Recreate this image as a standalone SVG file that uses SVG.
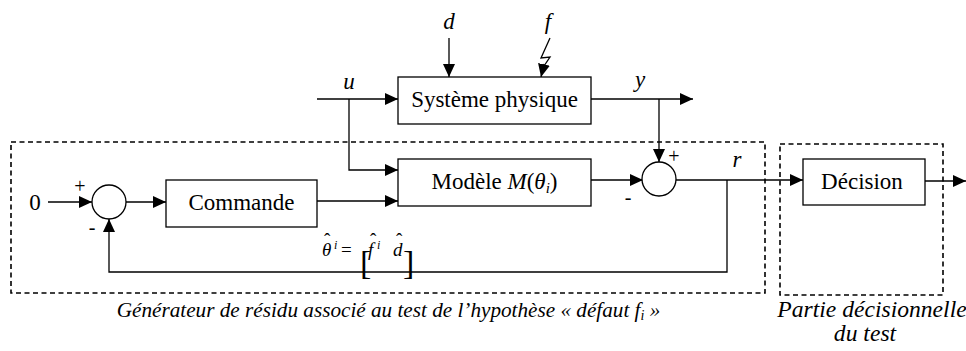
<svg xmlns="http://www.w3.org/2000/svg" width="966" height="351" viewBox="0 0 966 351">
<style>
  .box { fill: #fff; stroke: #000; stroke-width: 1.3; }
  .ln { fill: none; stroke: #000; stroke-width: 1.3; }
  .arr { marker-end: url(#ah); }
  .dash { fill: none; stroke: #000; stroke-width: 1.6; stroke-dasharray: 5 3.5; }
  .t { font-family: "Liberation Serif", serif; font-size: 23px; fill: #000; }
  .fm { font-family: "Liberation Serif", serif; font-size: 19px; fill: #000; }
  .cap { font-family: "Liberation Serif", serif; font-size: 21.2px; font-style: italic; fill: #000; }
  .cap2 { font-family: "Liberation Serif", serif; font-size: 23.6px; font-style: italic; fill: #000; }
  .it { font-style: italic; }
  .sg { font-family: "Liberation Serif", serif; font-size: 20px; fill: #000; }
</style>
<defs>
  <marker id="ah" markerUnits="userSpaceOnUse" markerWidth="14" markerHeight="12" refX="13" refY="6" orient="auto">
    <path d="M0,0 L13,6 L0,12 Z" fill="#000"/>
  </marker>
</defs>
<rect width="966" height="351" fill="#fff"/>

<g id="frames">
  <rect class="dash" x="11" y="142" width="754" height="151"/>
  <rect class="dash" x="780" y="144" width="163" height="151"/>
</g>

<g id="connectors">
  <line class="ln arr" x1="317" y1="99" x2="398" y2="99"/>
  <polyline class="ln arr" points="349,99 349,170 398,170"/>
  <line class="ln arr" x1="449" y1="38" x2="449" y2="77"/>
  <polyline class="ln" points="550,38 541,58 550,57 544,66"/>
  <line class="ln arr" x1="544" y1="64" x2="541" y2="77"/>
  <line class="ln arr" x1="591" y1="99" x2="693" y2="99"/>
  <line class="ln arr" x1="659" y1="99" x2="659" y2="162"/>
  <line class="ln arr" x1="48" y1="202" x2="92" y2="202"/>
  <line class="ln arr" x1="126" y1="202" x2="166" y2="202"/>
  <line class="ln arr" x1="317" y1="201" x2="398" y2="201"/>
  <line class="ln arr" x1="591" y1="180" x2="643" y2="180"/>
  <line class="ln arr" x1="676" y1="180" x2="803" y2="180"/>
  <polyline class="ln arr" points="727,180 727,272 109,272 109,219"/>
  <line class="ln arr" x1="925" y1="181" x2="966" y2="181"/>
</g>

<g id="systeme">
  <rect class="box" x="398" y="77" width="193" height="47"/>
  <text class="t" x="494.5" y="107" text-anchor="middle">Système physique</text>
</g>

<g id="commande">
  <rect class="box" x="166" y="180" width="151" height="47"/>
  <text class="t" x="241.5" y="210" text-anchor="middle">Commande</text>
</g>

<g id="modele">
  <rect class="box" x="398" y="159" width="193" height="47"/>
  <text class="t" x="494.5" y="189" text-anchor="middle">Modèle <tspan class="it">M</tspan>(<tspan class="it">θ</tspan><tspan class="it" font-size="15" dy="4">i</tspan><tspan dy="-4">)</tspan></text>
</g>

<g id="sum1">
  <circle class="box" cx="109" cy="202" r="17"/>
  <text class="sg" x="80" y="193" text-anchor="middle">+</text>
  <text class="sg" x="92" y="234" text-anchor="middle">-</text>
</g>

<g id="sum2">
  <circle class="box" cx="659" cy="179" r="17"/>
  <text class="sg" x="674" y="163" text-anchor="middle">+</text>
  <text class="sg" x="628" y="204" text-anchor="middle">-</text>
</g>

<g id="decision">
  <rect class="box" x="803" y="159" width="122" height="46"/>
  <text class="t" x="862" y="189" text-anchor="middle">Décision</text>
</g>

<g id="labels">
  <text class="t it" x="449" y="29" text-anchor="middle">d</text>
  <text class="t it" x="548" y="29" text-anchor="middle">f</text>
  <text class="t it" x="349" y="89" text-anchor="middle">u</text>
  <text class="t it" x="640" y="87" text-anchor="middle">y</text>
  <text class="t it" x="737" y="167" text-anchor="middle">r</text>
  <text class="t" x="35" y="210" text-anchor="middle">0</text>
</g>

<g id="formula">
  <text class="fm"><tspan class="it" x="322" y="256">θ</tspan><tspan x="324" y="246">ˆ</tspan><tspan class="it" font-size="12" x="334" y="249">i</tspan><tspan x="341" y="256">=</tspan><tspan font-size="34" x="360" y="274">[</tspan><tspan class="it" x="368" y="256">f</tspan><tspan x="370" y="246">ˆ</tspan><tspan class="it" font-size="12" x="377" y="249">i</tspan><tspan class="it" x="393" y="256">d</tspan><tspan x="396" y="246">ˆ</tspan><tspan font-size="34" x="403" y="274">]</tspan></text>
</g>

<g id="captions">
  <text class="cap" x="388.5" y="317" text-anchor="middle">Générateur de résidu associé au test de l’hypothèse « défaut f<tspan font-size="14" dy="3">i</tspan><tspan dy="-3"> »</tspan></text>
  <text class="cap2" x="872" y="317" text-anchor="middle">Partie décisionnelle</text>
  <text class="cap2" x="865" y="341" text-anchor="middle">du test</text>
</g>
</svg>
